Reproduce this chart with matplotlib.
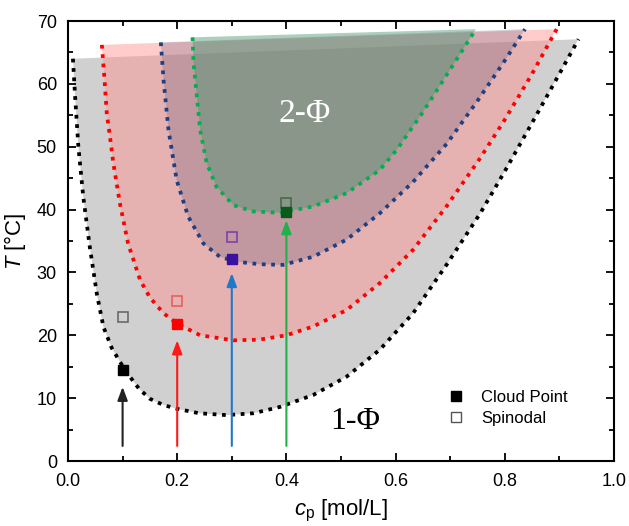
import matplotlib
matplotlib.use("Agg")
import matplotlib.pyplot as plt
from matplotlib.lines import Line2D

plt.rcParams['font.family'] = ['Liberation Sans', 'DejaVu Sans']
plt.rcParams['mathtext.fontset'] = 'custom'
plt.rcParams['mathtext.rm'] = 'Liberation Sans'
plt.rcParams['mathtext.it'] = 'Liberation Sans:italic'

# ---- data (c_p in mol/L, T in degC) ----
black_c = [0.009, 0.013, 0.019, 0.028, 0.040, 0.053, 0.065, 0.080, 0.095, 0.110, 0.130, 0.150,
           0.175, 0.200, 0.240, 0.290, 0.340, 0.388, 0.449, 0.510, 0.571, 0.632, 0.694, 0.755,
           0.800, 0.850, 0.900, 0.935]
black_T = [64.0, 58.0, 50.0, 42.0, 34.0, 26.5, 21.3, 18.0, 15.8, 13.8, 11.5, 9.9,
           8.9, 8.3, 7.6, 7.3, 7.6, 8.6, 10.5, 13.4, 17.7, 23.5, 31.3, 39.4,
           46.1, 53.8, 61.6, 67.1]

red_c = [0.062, 0.067, 0.071, 0.077, 0.083, 0.095, 0.110, 0.132, 0.150, 0.175, 0.199, 0.242,
         0.303, 0.350, 0.400, 0.449, 0.510, 0.571, 0.632, 0.694, 0.755, 0.800, 0.850, 0.895]
red_T = [66.2, 60.5, 55.3, 51.5, 47.4, 41.0, 34.6, 28.8, 26.0, 23.5, 21.9, 20.0,
         19.2, 19.3, 20.0, 21.4, 24.0, 28.3, 33.6, 40.6, 48.2, 54.3, 61.6, 68.7]

blue_c = [0.170, 0.175, 0.184, 0.199, 0.220, 0.248, 0.278, 0.309, 0.352, 0.394, 0.449, 0.510,
          0.571, 0.632, 0.694, 0.750, 0.800, 0.837]
blue_T = [66.6, 60.6, 52.7, 44.7, 38.9, 34.6, 32.5, 31.7, 31.3, 31.2, 32.5, 35.2,
          39.4, 44.4, 50.5, 57.3, 63.7, 68.7]

green_c = [0.228, 0.230, 0.236, 0.242, 0.254, 0.272, 0.303, 0.339, 0.388, 0.449, 0.510, 0.571,
           0.602, 0.650, 0.700, 0.747]
green_T = [67.4, 63.3, 58.0, 52.7, 47.4, 43.6, 40.7, 39.7, 39.5, 40.5, 42.6, 46.3,
           49.5, 55.5, 62.3, 68.7]

point_c = [0.1, 0.2, 0.3, 0.4]
cloud_T = [14.4, 21.8, 32.1, 39.6]
spinodal_T = [22.9, 25.4, 35.7, 41.0]
arrow_start_T = [2.4, 2.4, 2.4, 2.4]
arrow_tip_T = [11.8, 19.2, 29.9, 38.3]

# ---- styles ----
line_cols = ['#000000', '#ff0000', '#1f3f80', '#00b050']
fill_cols = [('#d0d0d0', 1.0), ('#ff8c8c', 0.45), ('#594d71', 0.25), ('#4a9670', 0.45)]
cloud_face = ['#000000', '#ff0000', '#3a10a0', '#0a5a1a']
spin_edge = ['#6a6a6a', '#e86060', '#8040a8', '#4a6a4a']
arrow_cols = ['#222222', '#ff1a1a', '#1f78c8', '#22b04a']

fig = plt.figure(figsize=(6.29, 5.26), dpi=100)
ax = fig.add_axes([68 / 629, 65 / 526, 546 / 629, 440 / 526])

curves = [(black_c, black_T), (red_c, red_T), (blue_c, blue_T), (green_c, green_T)]
for (cx, ty), lc, (fc, fa) in zip(curves, line_cols, fill_cols):
    ax.fill(cx, ty, color=fc, alpha=fa, lw=0, zorder=1)
for (cx, ty), lc in zip(curves, line_cols):
    ax.plot(cx, ty, color=lc, lw=2.7, linestyle=(0, (1, 1.5)), zorder=3)

for i in range(4):
    ax.annotate('', xy=(point_c[i], arrow_tip_T[i]), xytext=(point_c[i], arrow_start_T[i]),
                arrowprops=dict(arrowstyle='-|>,head_length=0.8,head_width=0.3',
                                color=arrow_cols[i], lw=1.5, shrinkA=0, shrinkB=0),
                zorder=4)
    ax.plot(point_c[i], spinodal_T[i], marker='s', ms=7.5, mfc='none',
            mec=spin_edge[i], mew=1.2, zorder=5)
    ax.plot(point_c[i], cloud_T[i], marker='s', ms=7.5, mfc=cloud_face[i],
            mec=cloud_face[i], mew=1.0, zorder=5)

ax.text(0.434, 55.3, '2-Φ', color='white', fontsize=24, family='Liberation Serif',
        ha='center', va='center', zorder=6)
ax.text(0.526, 6.3, '1-Φ', color='black', fontsize=23, family='Liberation Serif',
        ha='center', va='center', zorder=6)

h1 = Line2D([], [], ls='none', marker='s', ms=7.5, mfc='black', mec='black')
h2 = Line2D([], [], ls='none', marker='s', ms=7.5, mfc='none', mec='#555555', mew=1.0)
ax.legend([h1, h2], ['Cloud Point', 'Spinodal'], loc='center left',
          bbox_to_anchor=(0.665, 0.12), frameon=False, fontsize=12,
          handlelength=1.2, handletextpad=0.9, labelspacing=0.35)

ax.set_xlim(0, 1)
ax.set_ylim(0, 70)
ax.set_xticks([0, 0.2, 0.4, 0.6, 0.8, 1.0])
ax.set_xticklabels(['0.0', '0.2', '0.4', '0.6', '0.8', '1.0'])
ax.set_xticks([0.1, 0.3, 0.5, 0.7, 0.9], minor=True)
ax.set_yticks([0, 10, 20, 30, 40, 50, 60, 70])
ax.set_yticks([5, 15, 25, 35, 45, 55, 65], minor=True)
ax.tick_params(which='both', direction='in', top=True, right=True, labelsize=13, width=1.3)
ax.tick_params(which='major', length=6)
ax.tick_params(which='minor', length=3.5)
ax.tick_params(axis='x', which='major', pad=9)
ax.tick_params(axis='y', which='major', pad=8)
for s in ax.spines.values():
    s.set_linewidth(1.5)

ax.set_xlabel(r'$c_\mathrm{p}$ [mol/L]', fontsize=16, labelpad=5)
ax.set_ylabel(r'$T$ [$\mathrm{°C}$]', fontsize=16, labelpad=6)

fig.savefig('out.png', dpi=100)
